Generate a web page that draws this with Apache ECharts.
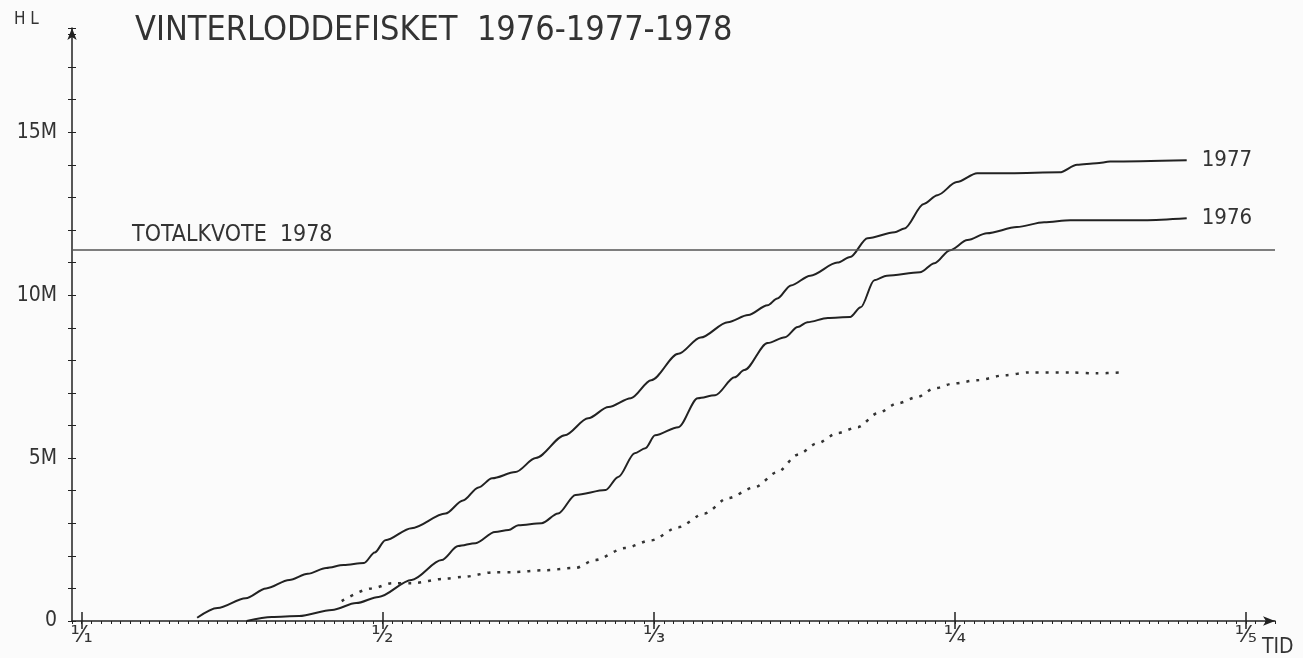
<!DOCTYPE html>
<html>
<head>
<meta charset="utf-8">
<script src="https://cdn.jsdelivr.net/npm/echarts@6/dist/echarts.min.js"></script>
<style>
  html, body { margin: 0; padding: 0; background: #fbfbfb; }
  #chart { width: 1303px; height: 658px; }
</style>
</head>
<body>
<div id="chart"></div>
<script>
// days counted from 1 January, values in million HL
const monthDays = [0, 31, 59, 90, 120];
const monthLabels = ['¹⁄₁', '¹⁄₂', '¹⁄₃', '¹⁄₄', '¹⁄₅'];
const yTickLabels = { 0: '0', 5: '5M', 10: '10M', 15: '15M' };
const quota1978 = 11.4;

const days1977 = [11.9, 14.0, 16.9, 19.0, 21.4, 23.3, 25.2, 27.0, 29.1, 30.2, 31.3, 34.0, 37.5, 39.3, 40.9, 42.3, 44.7, 46.8, 49.8, 52.2, 54.3, 56.6, 58.7, 61.5, 63.8, 66.6, 68.7, 70.7, 71.7, 73.1, 75.1, 77.9, 79.2, 81.0, 83.8, 84.8, 86.8, 88.2, 90.2, 92.3, 95.7, 100.8, 102.6, 104.6, 106.0, 113.9];
const hl1977 = [0.1, 0.4, 0.7, 1.0, 1.26, 1.45, 1.63, 1.72, 1.78, 2.1, 2.48, 2.85, 3.3, 3.7, 4.1, 4.38, 4.57, 5.0, 5.7, 6.22, 6.57, 6.84, 7.39, 8.2, 8.7, 9.17, 9.39, 9.69, 9.9, 10.3, 10.6, 11.0, 11.17, 11.75, 11.93, 12.05, 12.8, 13.07, 13.47, 13.74, 13.74, 13.77, 14.0, 14.05, 14.1, 14.14];

const days1976 = [17.0, 19.6, 22.4, 25.8, 28.3, 30.6, 34.0, 37.1, 38.8, 40.6, 42.6, 44.0, 45.0, 47.4, 49.1, 50.9, 54.0, 55.3, 57.0, 58.1, 59.1, 61.5, 63.5, 65.3, 67.3, 68.3, 70.7, 72.5, 73.8, 74.8, 76.9, 79.2, 80.3, 81.7, 83.0, 86.4, 87.9, 89.5, 91.3, 93.3, 96.4, 99.2, 101.9, 109.5, 113.9];
const hl1976 = [0.0, 0.12, 0.15, 0.34, 0.55, 0.74, 1.26, 1.87, 2.3, 2.39, 2.73, 2.79, 2.94, 3.0, 3.3, 3.87, 4.02, 4.42, 5.15, 5.3, 5.7, 5.95, 6.84, 6.93, 7.48, 7.7, 8.53, 8.71, 9.02, 9.17, 9.3, 9.33, 9.63, 10.46, 10.6, 10.7, 10.98, 11.38, 11.69, 11.9, 12.09, 12.24, 12.3, 12.3, 12.36];

const days1978 = [26.8, 29.9, 32.0, 34.0, 37.5, 39.2, 42.6, 44.3, 47.8, 50.9, 52.9, 56.0, 58.7, 61.5, 64.2, 66.6, 69.4, 71.7, 73.8, 75.8, 77.9, 80.0, 82.0, 84.1, 86.1, 87.9, 89.9, 92.3, 95.1, 97.7, 101.9, 104.6, 107.1];
const hl1978 = [0.61, 1.0, 1.16, 1.16, 1.3, 1.35, 1.5, 1.5, 1.56, 1.63, 1.87, 2.24, 2.48, 2.88, 3.3, 3.77, 4.11, 4.57, 5.1, 5.45, 5.77, 5.95, 6.37, 6.68, 6.87, 7.14, 7.29, 7.39, 7.54, 7.63, 7.63, 7.6, 7.63];

const ink = '#222';
const textInk = '#333';
const font = '"DejaVu Sans Condensed", "DejaVu Sans"';

const pairs = (xs, ys) => xs.map((x, i) => [x, ys[i]]);

const chart = echarts.init(document.getElementById('chart'));

const xBase = { type: 'value', min: -1, max: 123, position: 'bottom', splitLine: { show: false } };
const yBase = { type: 'value', min: 0, max: 18.2, interval: 1, position: 'left', splitLine: { show: false } };

const option = {
  backgroundColor: '#fbfbfb',
  animation: false,
  title: {
    text: 'VINTERLODDEFISKET  1976-1977-1978',
    left: 130, top: 9,
    textStyle: { fontFamily: font, fontSize: 34, fontWeight: 'normal', color: textInk }
  },
  graphic: [
    { type: 'text', left: 14, top: 11, style: { text: 'H L', font: '17px "DejaVu Sans Condensed"', fill: textInk } },
    { type: 'text', left: 1262, top: 637, style: { text: 'TID', font: '21px "DejaVu Sans Condensed"', fill: textInk } }
  ],
  grid: { left: 72, right: 28, top: 28, bottom: 37 },
  xAxis: [
    Object.assign({}, xBase, {
      interval: 1,
      axisLine: { show: true, symbol: ['none', 'arrow'], symbolSize: [7, 12], lineStyle: { color: ink, width: 1.5 } },
      axisTick: { show: true, length: 3, lineStyle: { color: ink, width: 1 } },
      axisLabel: { show: false }
    }),
    Object.assign({}, xBase, {
      axisLine: { show: false },
      axisTick: { show: true, inside: true, length: 9, customValues: monthDays, lineStyle: { color: ink, width: 1.5 } },
      axisLabel: { show: false }
    }),
    Object.assign({}, xBase, {
      axisLine: { show: false },
      axisTick: { show: true, length: 8, customValues: monthDays, lineStyle: { color: ink, width: 1.5 } },
      axisLabel: {
        show: true, customValues: monthDays, margin: 4,
        formatter: v => monthLabels[monthDays.indexOf(v)] || '',
        fontFamily: '"DejaVu Sans"', fontSize: 23, color: textInk
      }
    })
  ],
  yAxis: [
    Object.assign({}, yBase, {
      axisLine: { show: true, onZero: false, symbol: ['none', 'arrow'], symbolSize: [7, 12], lineStyle: { color: ink, width: 1.5 } },
      axisTick: { show: true, length: 4, lineStyle: { color: ink, width: 1 } },
      axisLabel: {
        margin: 15, fontFamily: font, fontSize: 21, color: textInk,
        formatter: v => yTickLabels[v] || ''
      }
    }),
    Object.assign({}, yBase, {
      axisLine: { show: false, onZero: false },
      axisTick: { show: true, inside: true, length: 4, lineStyle: { color: ink, width: 1 } },
      axisLabel: { show: false }
    })
  ],
  series: [
    {
      name: '1977', type: 'line', data: pairs(days1977, hl1977),
      smooth: 0.3, smoothMonotone: 'x', showSymbol: false,
      lineStyle: { color: ink, width: 2 },
      endLabel: { show: true, formatter: '{a}', distance: 15, fontFamily: font, fontSize: 22, color: textInk },
      markLine: {
        silent: true, symbol: 'none',
        lineStyle: { color: '#555', width: 1.5, type: 'solid' },
        label: {
          show: true, position: 'insideStartTop', distance: [60, 3],
          formatter: 'TOTALKVOTE  1978', fontFamily: font, fontSize: 23, color: textInk
        },
        data: [{ yAxis: quota1978 }]
      }
    },
    {
      name: '1976', type: 'line', data: pairs(days1976, hl1976),
      smooth: 0.3, smoothMonotone: 'x', showSymbol: false,
      lineStyle: { color: ink, width: 2 },
      endLabel: { show: true, formatter: '{a}', distance: 15, fontFamily: font, fontSize: 22, color: textInk }
    },
    {
      name: '1978', type: 'line', data: pairs(days1978, hl1978),
      smooth: 0.3, smoothMonotone: 'x', showSymbol: false,
      lineStyle: { color: '#333', width: 2.5, type: [3, 7] }
    }
  ]
};

chart.setOption(option);
</script>
</body>
</html>
